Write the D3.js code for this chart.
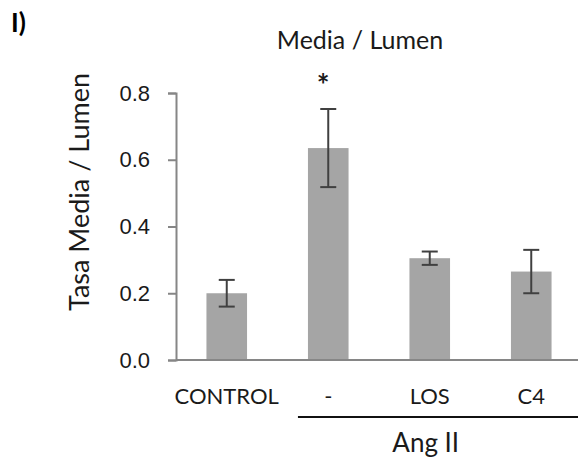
<!DOCTYPE html>
<html>
<head>
<meta charset="utf-8">
<script src="https://cdn.jsdelivr.net/npm/d3@7"></script>
<style>
  body { margin: 0; background: #fff; }
  svg { display: block; font-family: Lato, "Open Sans", sans-serif; }
</style>
</head>
<body>
<div id="chart"></div>
<script>
// data
const categories = ['CONTROL', '-', 'LOS', 'C4'];
const means = [0.20, 0.635, 0.305, 0.265];
const errors = [0.04, 0.117, 0.02, 0.065];
const yTicks = [0, 0.2, 0.4, 0.6, 0.8];
const groupLabel = 'Ang II';
const groupMembers = ['-', 'LOS', 'C4'];
const starred = ['-'];

const width = 578, height = 457;
const margin = { top: 93, right: -4, bottom: 97, left: 176 };

const svg = d3.select('#chart').append('svg')
  .attr('width', width)
  .attr('height', height);

let x = d3.scaleBand()
  .domain(categories)
  .range([margin.left, width - margin.right])
  .paddingInner(0.6)
  .paddingOuter(0.3);

let y = d3.scaleLinear()
  .domain([0, 0.8])
  .range([height - margin.bottom, margin.top]);

let data = categories.map((c, i) => ({ cat: c, mean: means[i], err: errors[i] }));

// bars
svg.selectAll('.bar')
  .data(data)
  .enter().append('rect')
  .attr('class', 'bar')
  .attr('x', d => x(d.cat))
  .attr('y', d => y(d.mean))
  .attr('width', x.bandwidth())
  .attr('height', d => y(0) - y(d.mean))
  .attr('fill', '#a5a5a5');

// error bars
let cap = 8;
let eb = svg.selectAll('.err')
  .data(data)
  .enter().append('g')
  .attr('class', 'err')
  .attr('stroke', '#404040')
  .attr('stroke-width', 2);
eb.append('line')
  .attr('x1', d => x(d.cat) + x.bandwidth() / 2)
  .attr('x2', d => x(d.cat) + x.bandwidth() / 2)
  .attr('y1', d => y(d.mean + d.err))
  .attr('y2', d => y(d.mean - d.err));
eb.append('line')
  .attr('x1', d => x(d.cat) + x.bandwidth() / 2 - cap)
  .attr('x2', d => x(d.cat) + x.bandwidth() / 2 + cap)
  .attr('y1', d => y(d.mean + d.err))
  .attr('y2', d => y(d.mean + d.err));
eb.append('line')
  .attr('x1', d => x(d.cat) + x.bandwidth() / 2 - cap)
  .attr('x2', d => x(d.cat) + x.bandwidth() / 2 + cap)
  .attr('y1', d => y(d.mean - d.err))
  .attr('y2', d => y(d.mean - d.err));

// y axis
let yAxis = svg.append('g')
  .attr('transform', 'translate(' + margin.left + ',0)')
  .call(d3.axisLeft(y).tickValues(yTicks).tickFormat(d3.format('.1f')).tickSize(8).tickSizeOuter(8).tickPadding(18));
yAxis.select('.domain').attr('stroke', '#868686').attr('stroke-width', 2);
yAxis.selectAll('.tick line').attr('stroke', '#868686').attr('stroke-width', 2);
yAxis.selectAll('.tick text')
  .attr('fill', '#1a1a1a')
  .style('font-size', '22px');

// x axis baseline
svg.append('line')
  .attr('x1', margin.left)
  .attr('x2', width)
  .attr('y1', y(0))
  .attr('y2', y(0))
  .attr('stroke', '#868686')
  .attr('stroke-width', 2);

// category labels
svg.selectAll('.cat')
  .data(categories)
  .enter().append('text')
  .attr('class', 'cat')
  .attr('x', d => x(d) + x.bandwidth() / 2)
  .attr('y', 404)
  .attr('text-anchor', 'middle')
  .attr('fill', '#1a1a1a')
  .style('font-size', '22px')
  .text(d => d);

// group bracket
let gStart = x(groupMembers[0]) - 10;
svg.append('line')
  .attr('x1', gStart)
  .attr('x2', width)
  .attr('y1', 417)
  .attr('y2', 417)
  .attr('stroke', '#111')
  .attr('stroke-width', 2);
svg.append('text')
  .attr('x', x('LOS') + x.bandwidth() / 2 - 4)
  .attr('y', 452)
  .attr('text-anchor', 'middle')
  .attr('fill', '#1a1a1a')
  .style('font-size', '26px')
  .text(groupLabel);

// significance star
svg.selectAll('.star')
  .data(data.filter(d => starred.includes(d.cat)))
  .enter().append('text')
  .attr('class', 'star')
  .attr('x', d => x(d.cat) + x.bandwidth() / 2 - 5)
  .attr('y', 96)
  .attr('text-anchor', 'middle')
  .attr('fill', '#1a1a1a')
  .style('font-size', '30px')
  .style('font-weight', 'bold')
  .text('*');

// title
svg.append('text')
  .attr('x', 360)
  .attr('y', 49)
  .attr('text-anchor', 'middle')
  .attr('fill', '#1a1a1a')
  .style('font-size', '25px')
  .text('Media / Lumen');

// y label
svg.append('text')
  .attr('transform', 'translate(89,' + 192 + ') rotate(-90)')
  .attr('text-anchor', 'middle')
  .attr('fill', '#1a1a1a')
  .style('font-size', '27px')
  .text('Tasa Media / Lumen');

// panel letter
svg.append('text')
  .attr('x', 11)
  .attr('y', 32)
  .attr('fill', '#000')
  .style('font-size', '26px')
  .style('font-weight', 'bold')
  .text('I)');
</script>
</body>
</html>
